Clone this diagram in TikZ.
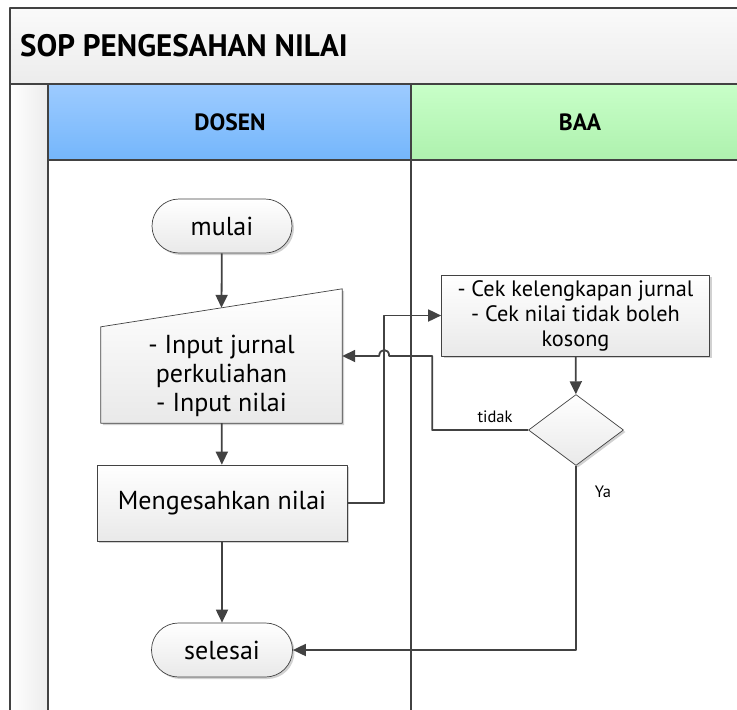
\documentclass[tikz,border=0pt]{standalone}
\usepackage{fontspec}
\setmainfont{PT Sans}
\usetikzlibrary{shapes,shapes.misc,shapes.geometric,positioning,calc,arrows.meta,shadows}
\definecolor{linegray}{HTML}{424242}
\definecolor{boxgray}{HTML}{E9E9E9}
\definecolor{dosentop}{HTML}{9DCBFF}
\definecolor{dosenbot}{HTML}{74B6FB}
\definecolor{baatop}{HTML}{C8FFC8}
\definecolor{baabot}{HTML}{AEF1AE}
\definecolor{titletop}{HTML}{FAFAFA}
\definecolor{titlebot}{HTML}{ECECEC}

\begin{document}
\begin{tikzpicture}[x=1pt,y=-1pt,line join=round]
		\tikzstyle{lane_line}=[draw=linegray, line width=1.3pt];
		\tikzstyle{lane_head}=[inner sep=0, font=\bfseries\fontsize{23.5}{28}\selectfont];
		\tikzstyle{shade_box}=[draw=linegray, line width=0.7pt, top color=white, bottom color=boxgray, drop shadow={shadow xshift=2pt, shadow yshift=-2pt, fill=black!18, opacity=1}];
		\tikzstyle{proc}=[shade_box, align=center, inner sep=0, font=\fontsize{26}{29}\selectfont];
		\tikzstyle{term}=[shade_box, rounded rectangle, inner sep=0, minimum height=54, font=\fontsize{26}{29}\selectfont];
		\tikzstyle{decision}=[shade_box, diamond, aspect=1.34, inner sep=0, minimum width=95, minimum height=71];
		\tikzstyle{flow}=[draw=linegray, line width=1.8pt, -{Triangle[length=13pt, width=12pt]}];
		\tikzstyle{small_label}=[inner sep=0, font=\fontsize{16.5}{19}\selectfont];
		
		\useasboundingbox (0,0) rectangle (737,710);
		
		% swimlane frame
		\shade[top color=titletop, bottom color=titlebot] (10,8) rectangle (737,84);
		\shade[left color=white, right color=titlebot] (10,84) rectangle (48,710);
		\shade[top color=dosentop, bottom color=dosenbot] (48,84) rectangle (411,160);
		\shade[top color=baatop, bottom color=baabot] (411,84) rectangle (737,160);
		\draw[lane_line] (737,8) -- (10,8) -- (10,710);
		\draw[lane_line] (10,84) -- (737,84);
		\draw[lane_line] (48,160) -- (737,160);
		\draw[lane_line] (48,84) -- (48,710);
		\draw[lane_line] (411,84) -- (411,710);
		
		\node[anchor=west, inner sep=0, font=\bfseries\fontsize{31}{36}\selectfont] (judul) at (20,46) {SOP PENGESAHAN NILAI};
		\node[lane_head] (dosen) at (230,122) {DOSEN};
		\node[lane_head] (baa) at (580,122) {BAA};
		
		% dosen lane
		\node[term, minimum width=140] (mulai) at (222,226) {mulai};
		\node[inner sep=0, minimum width=241, minimum height=134] (input) at (221.5,356) {};
		\path[shade_box] (input.south west) -- (input.south east) -- (input.north east) -- ($(input.north west)+(0,38)$) -- cycle;
		\node[align=center, inner sep=0, font=\fontsize{26}{29}\selectfont] (input_teks) at ($(input.center)+(0,20)$) {- Input jurnal\\perkuliahan\\- Input nilai};
		\coordinate (input_atas) at ($(input.north)+(0,19)$);
		\node[proc, minimum width=250, minimum height=76] (sahkan) at (222,503) {Mengesahkan nilai};
		\node[term, minimum width=141] (selesai) at (222,650) {selesai};
		
		% baa lane
		\node[proc, minimum width=268, minimum height=81, font=\fontsize{22.3}{25}\selectfont] (cek) at (575.5,315.5) {- Cek kelengkapan jurnal\\- Cek nilai tidak boleh\\kosong};
		\node[decision] (cabang) at (576,430) {};
		
		% connectors
		\draw[flow] (mulai) -- (input_atas);
		\draw[flow] (input) -- (sahkan);
		\draw[flow] (sahkan) -- (selesai);
		\draw[flow] (cek) -- (cabang);
		\draw[flow] (sahkan.east) -- ++(37,0) |- (cek.west);
		\draw[flow] (cabang.west) -- ++(-96,0) |- ($(input.east)+(47,0)$) .. controls ($(input.east)+(47,-8)$) and ($(input.east)+(37,-8)$) .. ($(input.east)+(37,0)$) -- (input.east);
		\draw[flow] (cabang.south) |- (selesai.east);
		
		\node[small_label] (lbl_tidak) at (495,417) {tidak};
		\node[small_label] (lbl_ya) at (603,492) {Ya};
	\end{tikzpicture}
\end{document}
